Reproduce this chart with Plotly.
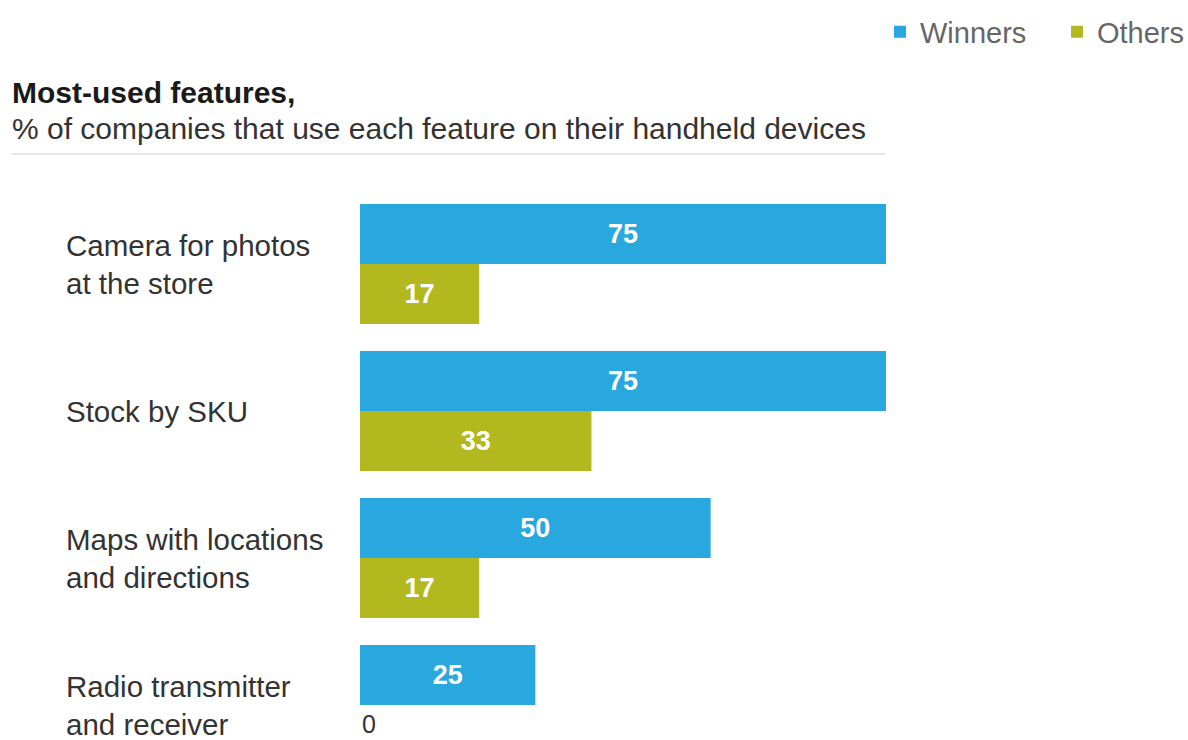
import plotly.graph_objects as go

# ---- data ----
categories = [
    "Camera for photos<br>at the store",
    "Stock by SKU",
    "Maps with locations<br>and directions",
    "Radio transmitter<br>and receiver",
]
winners = [75, 75, 50, 25]
others = [17, 33, 17, 0]
series_names = ["Winners", "Others"]
title_text = "Most-used features,"
subtitle_text = "% of companies that use each feature on their handheld devices"

# ---- style ----
W, H = 1188, 740
BLUE = "#29a8e0"
OLIVE = "#b3b81f"
FONT = "Liberation Sans, Arial, Helvetica, sans-serif"
DARK = "#333333"

px_per_unit = 7.013
bar_start_px = 360
x_range = [-bar_start_px / px_per_unit, (W - bar_start_px) / px_per_unit]

# category pixel centres: first at 264, spacing 147
first_c, step = 264, 147
y_top = -first_c / step
y_bot = (H - first_c) / step
y_range = [y_bot, y_top]

fig = go.Figure()
for name, vals, col in [(series_names[0], winners, BLUE), (series_names[1], others, OLIVE)]:
    fig.add_trace(go.Bar(
        y=categories, x=vals, name=name, orientation="h",
        marker=dict(color=col, line=dict(width=0)),
        text=[str(v) if v > 0 else "" for v in vals], textposition="inside",
        insidetextanchor="middle",
        insidetextfont=dict(color="white", size=27, family=FONT, weight="bold"),
        hoverinfo="skip", cliponaxis=False,
    ))

annotations = [
    dict(text=title_text, x=10 / W, y=1 - 92 / H, xref="paper", yref="paper",
         xanchor="left", yanchor="middle", showarrow=False,
         font=dict(family=FONT, size=30, color="#1a1a1a", weight="bold")),
    dict(text=subtitle_text, x=10 / W, y=1 - 128 / H, xref="paper", yref="paper",
         xanchor="left", yanchor="middle", showarrow=False,
         font=dict(family=FONT, size=30, color=DARK)),
]
for c in categories:
    annotations.append(dict(
        text=c, x=64 / W, y=c, xref="paper", yref="y",
        xanchor="left", yanchor="middle", align="left", showarrow=False,
        font=dict(family=FONT, size=29.5, color=DARK)))

# zero-valued "Others" bars: value label just below the group's centre line
for c, v in zip(categories, others):
    if v == 0:
        annotations.append(dict(
            text=str(v), x=v, y=c, xref="x", yref="y",
            xanchor="left", yanchor="top", showarrow=False, yshift=-3,
            font=dict(family=FONT, size=25, color=DARK)))

fig.update_layout(
    width=W, height=H,
    margin=dict(l=0, r=0, t=0, b=0, autoexpand=False),
    paper_bgcolor="white", plot_bgcolor="white",
    barmode="group", bargap=27 / 147, bargroupgap=0,
    xaxis=dict(range=x_range, visible=False, fixedrange=True, automargin=False),
    yaxis=dict(type="category", categoryarray=categories, range=y_range,
               visible=False, fixedrange=True, automargin=False),
    showlegend=True,
    legend=dict(orientation="h", x=1 + 46 / W, xanchor="right", y=1 - 32 / H,
                yanchor="middle", font=dict(family=FONT, size=29, color="#666666"),
                entrywidth=132,
                bgcolor="rgba(0,0,0,0)", itemclick=False, itemdoubleclick=False),
    annotations=annotations,
    shapes=[dict(type="line", xref="paper", yref="paper",
                 x0=12 / W, x1=885 / W, y0=1 - 154 / H, y1=1 - 154 / H,
                 line=dict(color="#dddddd", width=1.5))],
    uniformtext=dict(mode=False),
)

fig.write_html("out.html")
